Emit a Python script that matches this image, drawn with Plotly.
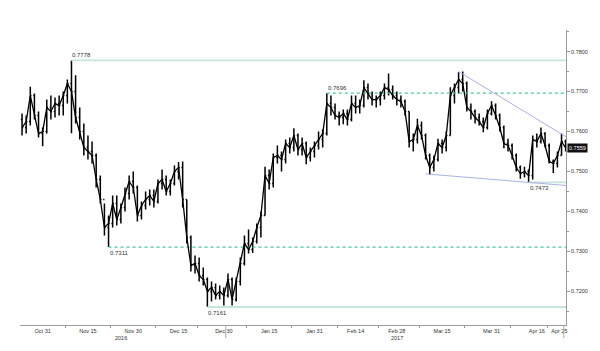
import pandas as pd
import plotly.graph_objects as go

# ---------------- data (daily bars, AUD/USD style) ----------------
start_date = "2016-10-24"
end_date = "2017-04-26"
first_open = 0.7630

highs = [0.7645, 0.7640, 0.7712, 0.7695, 0.7650, 0.7610, 0.7680, 0.7690, 0.7685, 0.7690,
         0.7700, 0.7730, 0.7778, 0.7741, 0.7660, 0.7620, 0.7590, 0.7575, 0.7545, 0.7490,
         0.7420, 0.7390, 0.7440, 0.7440, 0.7420, 0.7460, 0.7490, 0.7500, 0.7465, 0.7425,
         0.7450, 0.7455, 0.7455, 0.7480, 0.7505, 0.7490, 0.7480, 0.7515, 0.7524, 0.7525,
         0.7430, 0.7340, 0.7290, 0.7285, 0.7260, 0.7235, 0.7225, 0.7220, 0.7215, 0.7210,
         0.7245, 0.7235, 0.7235, 0.7285, 0.7340, 0.7355, 0.7335, 0.7370, 0.7400, 0.7512,
         0.7505, 0.7545, 0.7565, 0.7550, 0.7580, 0.7585, 0.7608, 0.7595, 0.7585, 0.7575,
         0.7560, 0.7575, 0.7600, 0.7605, 0.7696, 0.7690, 0.7670, 0.7650, 0.7655, 0.7655,
         0.7690, 0.7690, 0.7680, 0.7728, 0.7720, 0.7700, 0.7690, 0.7700, 0.7720, 0.7745,
         0.7715, 0.7700, 0.7690, 0.7680, 0.7650, 0.7595, 0.7632, 0.7625, 0.7595, 0.7545,
         0.7540, 0.7582, 0.7580, 0.7600, 0.7711, 0.7720, 0.7748, 0.7750, 0.7725, 0.7670,
         0.7655, 0.7645, 0.7635, 0.7655, 0.7676, 0.7670, 0.7645, 0.7615, 0.7582, 0.7570,
         0.7545, 0.7515, 0.7512, 0.7505, 0.7590, 0.7595, 0.7610, 0.7598, 0.7570, 0.7530,
         0.7550, 0.7595, 0.7580]
lows = [0.7590, 0.7595, 0.7615, 0.7630, 0.7585, 0.7563, 0.7595, 0.7630, 0.7635, 0.7640,
        0.7640, 0.7670, 0.7596, 0.7620, 0.7580, 0.7540, 0.7530, 0.7520, 0.7460, 0.7420,
        0.7340, 0.7311, 0.7360, 0.7365, 0.7370, 0.7400, 0.7430, 0.7445, 0.7375, 0.7380,
        0.7405, 0.7415, 0.7410, 0.7420, 0.7455, 0.7440, 0.7440, 0.7465, 0.7480, 0.7410,
        0.7320, 0.7250, 0.7245, 0.7225, 0.7215, 0.7161, 0.7175, 0.7180, 0.7180, 0.7165,
        0.7185, 0.7165, 0.7175, 0.7215, 0.7265, 0.7295, 0.7296, 0.7320, 0.7335, 0.7390,
        0.7455, 0.7460, 0.7520, 0.7500, 0.7520, 0.7545, 0.7550, 0.7540, 0.7540, 0.7518,
        0.7525, 0.7535, 0.7555, 0.7560, 0.7590, 0.7640, 0.7630, 0.7615, 0.7618, 0.7615,
        0.7625, 0.7645, 0.7645, 0.7660, 0.7680, 0.7665, 0.7660, 0.7665, 0.7680, 0.7690,
        0.7680, 0.7665, 0.7660, 0.7640, 0.7560, 0.7550, 0.7570, 0.7580, 0.7530, 0.7492,
        0.7500, 0.7525, 0.7545, 0.7550, 0.7590, 0.7670, 0.7695, 0.7700, 0.7650, 0.7630,
        0.7620, 0.7615, 0.7598, 0.7605, 0.7640, 0.7630, 0.7600, 0.7558, 0.7550, 0.7530,
        0.7500, 0.7482, 0.7485, 0.7473, 0.7480, 0.7560, 0.7570, 0.7560, 0.7520, 0.7496,
        0.7510, 0.7540, 0.7550]
closes = [0.7610, 0.7625, 0.7690, 0.7640, 0.7595, 0.7600, 0.7660, 0.7650, 0.7670, 0.7665,
          0.7690, 0.7720, 0.7700, 0.7635, 0.7600, 0.7560, 0.7550, 0.7540, 0.7480, 0.7430,
          0.7360, 0.7370, 0.7420, 0.7380, 0.7410, 0.7445, 0.7475, 0.7460, 0.7390, 0.7415,
          0.7430, 0.7440, 0.7425, 0.7470, 0.7480, 0.7450, 0.7470, 0.7500, 0.7510, 0.7430,
          0.7335, 0.7265, 0.7270, 0.7240, 0.7230, 0.7200, 0.7210, 0.7190, 0.7200, 0.7190,
          0.7230, 0.7180, 0.7225, 0.7270, 0.7320, 0.7305, 0.7325, 0.7360, 0.7390, 0.7490,
          0.7470, 0.7535, 0.7540, 0.7530, 0.7570, 0.7560, 0.7590, 0.7555, 0.7570, 0.7535,
          0.7550, 0.7565, 0.7580, 0.7595, 0.7670, 0.7660, 0.7640, 0.7635, 0.7645, 0.7630,
          0.7670, 0.7660, 0.7665, 0.7710, 0.7695, 0.7680, 0.7680, 0.7690, 0.7710, 0.7705,
          0.7690, 0.7680, 0.7675, 0.7650, 0.7575, 0.7580, 0.7615, 0.7590, 0.7540, 0.7510,
          0.7530, 0.7570, 0.7560, 0.7590, 0.7690, 0.7710, 0.7730, 0.7720, 0.7660, 0.7650,
          0.7635, 0.7625, 0.7610, 0.7645, 0.7665, 0.7640, 0.7610, 0.7570, 0.7565, 0.7540,
          0.7510, 0.7495, 0.7500, 0.7490, 0.7580, 0.7575, 0.7595, 0.7565, 0.7525, 0.7520,
          0.7540, 0.7575, 0.7559]

# horizontal levels
level_values = [0.7778, 0.7696, 0.7311, 0.7161, 0.7473]
level_starts = ["2016-11-09 12:00", "2017-02-03 12:00", "2016-11-22 12:00",
                "2016-12-26 12:00", "2017-04-13 12:00"]
level_dotted = [False, True, True, False, False]
level_label_above = [True, True, False, False, False]

# trend lines
upper_trend_x = ["2017-03-21 12:00", "2017-04-26 14:00"]
upper_trend_y = [0.7750, 0.7587]
lower_trend_x = ["2017-03-09 12:00", "2017-04-26 14:00"]
lower_trend_y = [0.7494, 0.7465]

last_price = 0.7559

tick_dates = ["2016-10-31 12:00", "2016-11-15 12:00", "2016-11-30 12:00", "2016-12-15 12:00",
              "2016-12-30 12:00", "2017-01-16 12:00", "2017-01-31 12:00", "2017-02-14 12:00",
              "2017-02-28 12:00", "2017-03-15 12:00", "2017-03-31 12:00", "2017-04-17 12:00",
              "2017-04-25 00:00"]
tick_labels = ["Oct 31", "Nov 15", "Nov 30", "Dec 15", "Dec 30", "Jan 15", "Jan 31",
               "Feb 14", "Feb 28", "Mar 15", "Mar 31", "Apr 16", "Apr 25"]
minor_dates = ["2016-11-08", "2016-11-23", "2016-12-08", "2016-12-22", "2017-01-09",
               "2017-01-24", "2017-02-08", "2017-02-22", "2017-03-08", "2017-03-23",
               "2017-04-07", "2017-04-20"]
year_labels = ["2016", "2017"]
year_positions = ["2016-11-25 12:00", "2017-02-28 12:00"]

x_range = ["2016-10-24 00:00", "2017-04-26 14:00"]
y_range = [0.7116, 0.7854]

# ---------------- figure ----------------
dates = pd.bdate_range(start_date, end_date) + pd.Timedelta(hours=12)
opens = [first_open] + closes[:-1]

FONT = "Liberation Sans, Arial, sans-serif"
fig = go.Figure()

solid_col = "#c6e6dd"
dot_col = "#4cc59a"
trend_col = "#aab2e2"

for v, s, dotted in zip(level_values, level_starts, level_dotted):
    fig.add_trace(go.Scatter(
        x=[s, x_range[1]], y=[v, v], mode="lines", hoverinfo="skip", showlegend=False,
        line=dict(color=dot_col if dotted else solid_col, width=1.2 if dotted else 1.8,
                  dash="dot" if dotted else "solid")))

fig.add_trace(go.Scatter(x=upper_trend_x, y=upper_trend_y, mode="lines", showlegend=False,
                         line=dict(color=trend_col, width=1), hoverinfo="skip"))
fig.add_trace(go.Scatter(x=lower_trend_x, y=lower_trend_y, mode="lines", showlegend=False,
                         line=dict(color=trend_col, width=1), hoverinfo="skip"))

fig.add_trace(go.Ohlc(
    x=dates, open=opens, high=highs, low=lows, close=closes,
    increasing=dict(line=dict(color="#000000", width=1.5)),
    decreasing=dict(line=dict(color="#000000", width=1.5)),
    tickwidth=0.3, showlegend=False))

# close-to-close path to give the dense, continuous look of the original
fig.add_trace(go.Scatter(x=dates, y=closes, mode="lines", hoverinfo="skip", showlegend=False,
                         line=dict(color="#000000", width=1.3)))

annotations = []
for v, s, above in zip(level_values, level_starts, level_label_above):
    annotations.append(dict(
        x=s, y=v, xref="x", yref="y", text=f"{v:.4f}", showarrow=False,
        xanchor="left", yanchor="bottom" if above else "top", xshift=-1,
        yshift=0 if above else -1,
        font=dict(family=FONT, size=6, color="#333333")))

for t, p in zip(year_labels, year_positions):
    annotations.append(dict(x=p, y=0, xref="x", yref="paper", text=t, showarrow=False,
                            xanchor="center", yanchor="top", yshift=-7.5,
                            font=dict(family=FONT, size=5.5, color="#333333")))

annotations.append(dict(x=1, y=last_price, xref="paper", yref="y", text=f"{last_price:.4f}",
                        showarrow=False, xanchor="left", yanchor="middle", xshift=1,
                        bgcolor="#111111", borderpad=1,
                        font=dict(family=FONT, size=5.5, color="#ffffff")))

shapes = [
    dict(type="line", xref="x", yref="paper", x0="2016-12-30 23:00", x1="2016-12-30 23:00",
         y0=0, y1=-0.045, line=dict(color="#aaaaaa", width=1)),
    dict(type="line", xref="paper", yref="paper", x0=0.996, x1=0.996,
         y0=0, y1=-0.045, line=dict(color="#aaaaaa", width=1)),
]

fig.update_layout(
    width=600, height=351,
    margin=dict(l=20, r=28, t=30, b=26),
    paper_bgcolor="white", plot_bgcolor="white",
    showlegend=False,
    annotations=annotations, shapes=shapes,
    font=dict(family=FONT, size=6, color="#333333"),
    xaxis=dict(
        type="date", range=x_range,
        rangebreaks=[dict(bounds=["sat", "mon"])],
        rangeslider=dict(visible=False),
        showgrid=False, zeroline=False,
        showline=True, linecolor="#9a9a9a", linewidth=1,
        tickmode="array", tickvals=tick_dates, ticktext=tick_labels,
        ticks="", tickfont=dict(family=FONT, size=5.5, color="#333333"),
        minor=dict(tickmode="array", tickvals=minor_dates, ticks="outside",
                   ticklen=2, tickcolor="#9a9a9a", showgrid=False),
    ),
    yaxis=dict(
        side="right", range=y_range,
        showgrid=False, zeroline=False,
        showline=True, linecolor="#9a9a9a", linewidth=1,
        dtick=0.01, tick0=0.72, tickformat=".4f",
        ticks="outside", ticklen=3, tickcolor="#9a9a9a",
        tickfont=dict(family=FONT, size=5.5, color="#333333"),
        minor=dict(dtick=0.005, ticks="outside", ticklen=2, tickcolor="#9a9a9a",
                   showgrid=False),
    ),
)

fig.write_html("out.html")
